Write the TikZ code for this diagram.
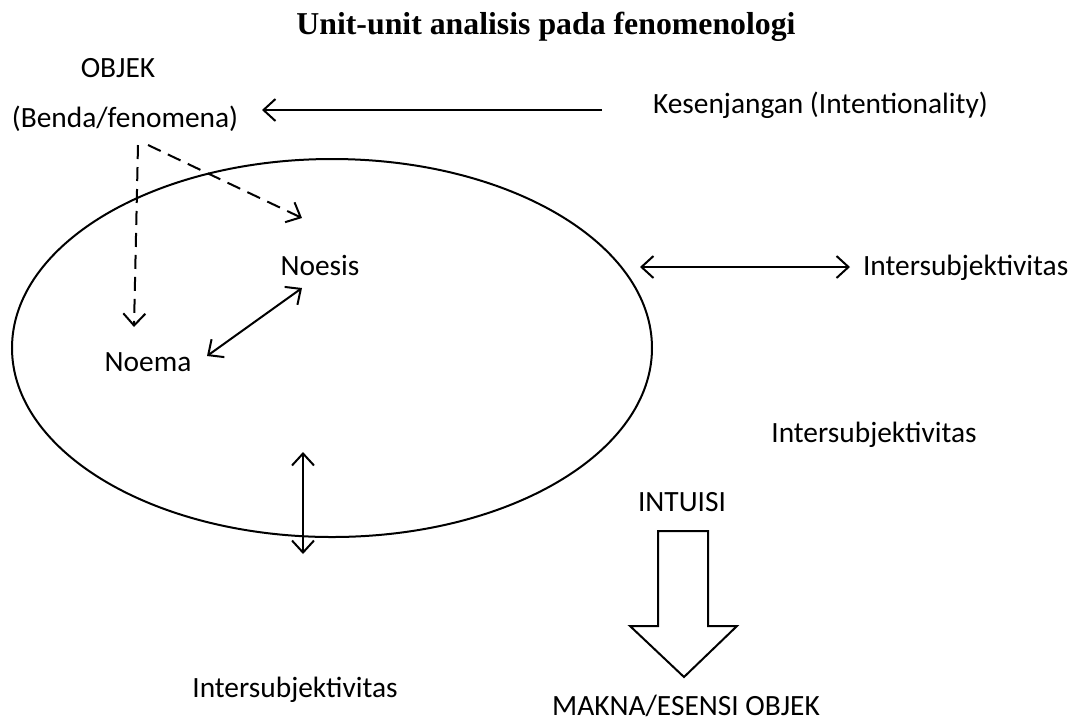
\documentclass[tikz,border=0pt]{standalone}
\usepackage{fontspec}
\setmainfont{Carlito}
\newfontfamily\titlefont{Liberation Serif}
\usetikzlibrary{arrows.meta,positioning}

\tikzset{
  lbl/.style={inner sep=0pt, font=\fontsize{14.7}{18}\selectfont},
  tip/.style={-{Straight Barb[length=6pt,width=11pt]}},
  bothtip/.style={{Straight Barb[length=6pt,width=11pt]}-{Straight Barb[length=6pt,width=11pt]}},
}

\begin{document}
\begin{tikzpicture}[x=0.5pt, y=-0.5pt, line width=1pt]
\useasboundingbox (0,0) rectangle (1083,720); % page
\node[font=\titlefont\bfseries\fontsize{15.9}{19}\selectfont, inner sep=0pt] (title) at (546,27) {Unit-unit analisis pada fenomenologi}; % title
\node[lbl] (objek) at (118,68) {OBJEK};
\node[lbl] (benda) at (125,119) {(Benda/fenomena)};
\node[lbl, anchor=west] (kes) at (652,105) {Kesenjangan (Intentionality)};
\draw (332,348) ellipse (320 and 189); % subject
\node[lbl] (noesis) at (320,265) {Noesis};
\node[lbl] (noema) at (148,362) {Noema};
\node[lbl, anchor=west] (inter1) at (862,268) {Intersubjektivitas};
\node[lbl] (inter2) at (874,435) {Intersubjektivitas};
\node[lbl] (inter3) at (295,690) {Intersubjektivitas};
\node[lbl] (intuisi) at (682,502) {INTUISI};
\node[lbl] (makna) at (686,706) {MAKNA/ESENSI OBJEK};
\coordinate (kesend) at (602,110);
\coordinate (bendaend) at (262,110);
\coordinate (dashA) at (138,145);
\coordinate (dashB) at (148,145);
\coordinate (rightA) at (640,267);
\coordinate (rightB) at (850,267);
\coordinate (vertA) at (303,452);
\coordinate (vertB) at (303,554);
\draw[tip] (kesend) -- (bendaend); % intentionality
\draw[tip, dash pattern=on 7pt off 4pt] (dashA) -- (134,327); % to noema
\draw[tip, dash pattern=on 7pt off 4pt] (dashB) -- (302,218); % to noesis
\draw[bothtip] (207,356) -- (302,288); % noema - noesis
\draw[bothtip] (rightA) -- (rightB); % intersubjektivitas
\draw[bothtip] (vertA) -- (vertB); % intersubjektivitas
\draw[line join=miter] (658,531) -- (708,531) -- (708,626) -- (737,626) -- (684,677) -- (630,626) -- (658,626) -- cycle; % intuisi arrow
\end{tikzpicture}
\end{document}
